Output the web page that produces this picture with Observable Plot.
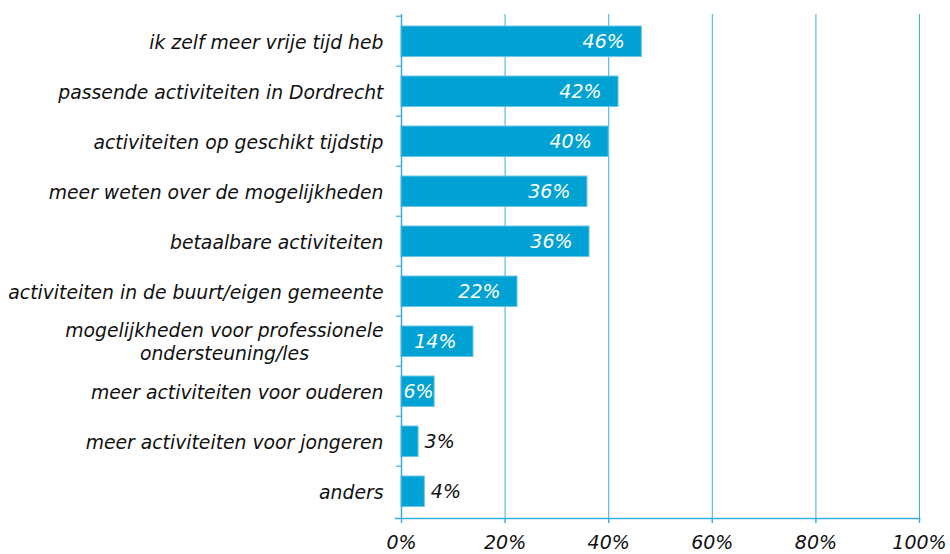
<!DOCTYPE html>
<html>
<head>
<meta charset="utf-8">
<script src="https://cdn.jsdelivr.net/npm/d3@7"></script>
<script src="https://cdn.jsdelivr.net/npm/@observablehq/plot@0.6"></script>
<style>
  html, body { margin: 0; padding: 0; background: #fff; }
  #chart svg { display: block; }
</style>
</head>
<body>
<div id="chart"></div>
<script>
const categories = [
  "ik zelf meer vrije tijd heb",
  "passende activiteiten in Dordrecht",
  "activiteiten op geschikt tijdstip",
  "meer weten over de mogelijkheden",
  "betaalbare activiteiten",
  "activiteiten in de buurt/eigen gemeente",
  "mogelijkheden voor professionele\nondersteuning/les",
  "meer activiteiten voor ouderen",
  "meer activiteiten voor jongeren",
  "anders"
];
const values = [46.4, 41.9, 40, 35.9, 36.3, 22.4, 13.9, 6.4, 3.3, 4.5];
const labels = ["46%", "42%", "40%", "36%", "36%", "22%", "14%", "6%", "3%", "4%"];
const xTicks = [0, 20, 40, 60, 80, 100];

const data = categories.map((c, i) => ({category: c, value: values[i], label: labels[i]}));

const W = 950, H = 554;
const mt = 14, mb = 36, ml = 401, mr = 31;
const bw = (H - mt - mb) / categories.length;
const blue = "#00a2d4";
const lineBlue = "#37aee0";
const font = "DejaVu Sans";

const chart = Plot.plot({
  width: W,
  height: H,
  marginTop: mt,
  marginBottom: mb,
  marginLeft: ml,
  marginRight: mr,
  style: {fontFamily: font, fontSize: "19px", background: "#fff"},
  x: {domain: [0, 100], axis: null, label: null},
  y: {domain: categories, padding: 0, axis: null, label: null},
  marks: [
    Plot.gridX(xTicks.filter(d => d > 0), {stroke: lineBlue, strokeOpacity: 1, strokeWidth: 1}),
    Plot.barX(data, {
      y: "category", x: "value",
      fill: blue, stroke: "#6cc6ea", strokeWidth: 1,
      insetTop: 10, insetBottom: 9.5
    }),
    Plot.ruleX([0], {stroke: lineBlue, strokeWidth: 1.5}),
    Plot.frame({anchor: "bottom", stroke: lineBlue, strokeWidth: 1.5, insetLeft: -6}),
    Plot.axisY({tickSize: 5, tickFormat: () => "", label: null, dy: -bw / 2, stroke: "#5cbde6", strokeWidth: 1.5}),
    Plot.axisX({
      ticks: xTicks, tickFormat: d => d + "%", label: null,
      tickSize: 5, tickPadding: 12,
      stroke: lineBlue, fill: "#111", strokeWidth: 1.5,
      fontSize: 19, fontStyle: "italic"
    }),
    Plot.text(data, {
      y: "category", x: 0, text: "category",
      dx: -18, textAnchor: "end", lineHeight: 1.2,
      fill: "#111", fontSize: 18.8, fontStyle: "italic"
    }),
    Plot.text(data.filter(d => d.value >= 10), {
      y: "category", x: "value", text: "label",
      dx: -17, textAnchor: "end", fill: "#fff", fontSize: 19, fontStyle: "italic"
    }),
    Plot.text(data.filter(d => d.value >= 5 && d.value < 10), {
      y: "category", x: 0, text: "label",
      dx: 2, textAnchor: "start", fill: "#fff", fontSize: 19, fontStyle: "italic"
    }),
    Plot.text(data.filter(d => d.value < 5), {
      y: "category", x: "value", text: "label",
      dx: 6, textAnchor: "start", fill: "#111", fontSize: 19, fontStyle: "italic"
    })
  ]
});

document.getElementById("chart").appendChild(chart);

// center the second line of the multi-line category label under the first
chart.querySelectorAll("text").forEach(t => {
  const spans = t.querySelectorAll("tspan");
  if (spans.length === 2) {
    const w1 = spans[0].getComputedTextLength();
    const w2 = spans[1].getComputedTextLength();
    const x0 = +(spans[0].getAttribute("x") || 0);
    spans[1].setAttribute("x", x0 - (w1 - w2) / 2);
  }
});
</script>
</body>
</html>
